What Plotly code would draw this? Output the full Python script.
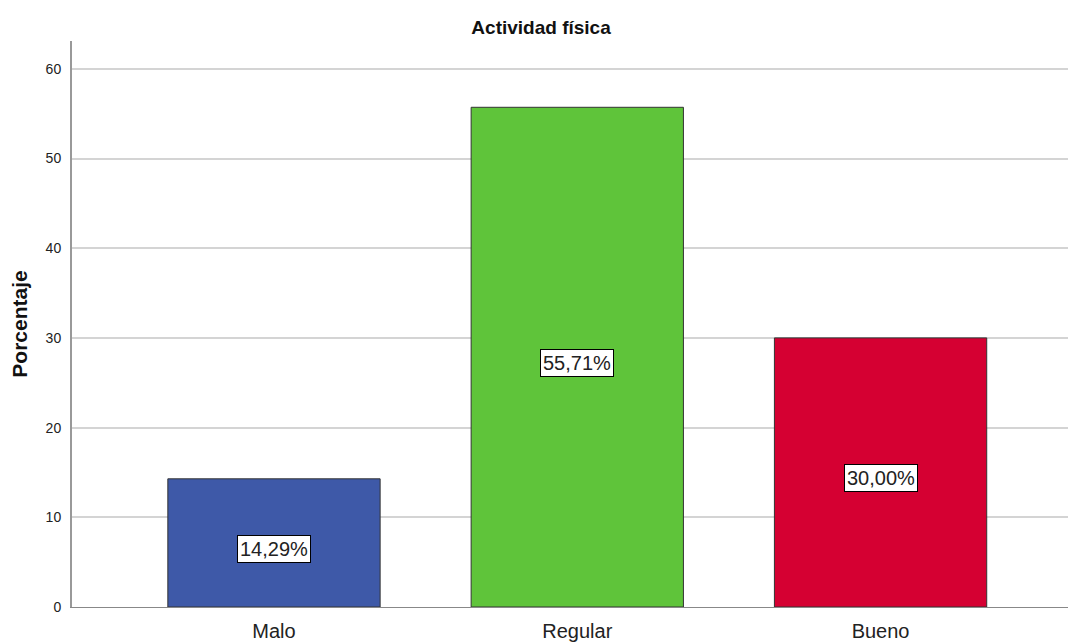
import plotly.graph_objects as go

categorias = ["Malo", "Regular", "Bueno"]
porcentajes = [14.29, 55.71, 30.00]
etiquetas = ["14,29%", "55,71%", "30,00%"]
colores = ["#3E59A8", "#5FC43A", "#D50032"]
ticks_y = [0, 10, 20, 30, 40, 50, 60]

fuente = "Liberation Sans, Arial"

fig = go.Figure()
fig.add_trace(go.Bar(x=categorias, y=porcentajes, width=0.7,
                     marker=dict(color=colores, line=dict(color="#333333", width=1)),
                     hoverinfo="none"))

# etiquetas de porcentaje en recuadro blanco, a media altura de la barra
for c, v, t in zip(categorias, porcentajes, etiquetas):
    fig.add_annotation(x=c, y=v / 2, yshift=-6, text=t, showarrow=False,
                       font=dict(family=fuente, size=20, color="#222"),
                       bgcolor="white", bordercolor="black", borderwidth=1, borderpad=2)

fig.update_layout(
    width=1068, height=642,
    margin=dict(l=72, r=0, t=41, b=35),
    plot_bgcolor="white", paper_bgcolor="white",
    showlegend=False,
    font=dict(family=fuente, color="#222"),
    title=dict(text="<b>Actividad física</b>", x=0.5066, xanchor="center", y=0.958, yanchor="middle",
               font=dict(size=19, color="#111")),
)
fig.update_xaxes(range=[-0.666, 2.618], showline=True, linecolor="#888", linewidth=1, automargin=False,
                 ticks="", ticklabelstandoff=6, tickfont=dict(size=20, color="#222"), showgrid=False)
fig.update_yaxes(range=[0, 63.1], tickvals=ticks_y, showline=True, linecolor="#999", linewidth=2,
                 showgrid=True, gridcolor="#d4d4d4", gridwidth=2, zeroline=False, automargin=False,
                 ticks="", ticklabelstandoff=6, tickfont=dict(size=14, color="#222"),
                 title=dict(text="<b>Porcentaje</b>", font=dict(size=21, color="#111"), standoff=12))

fig.write_html("out.html", config={"displayModeBar": False},
               post_script="document.body.style.margin='0';")
